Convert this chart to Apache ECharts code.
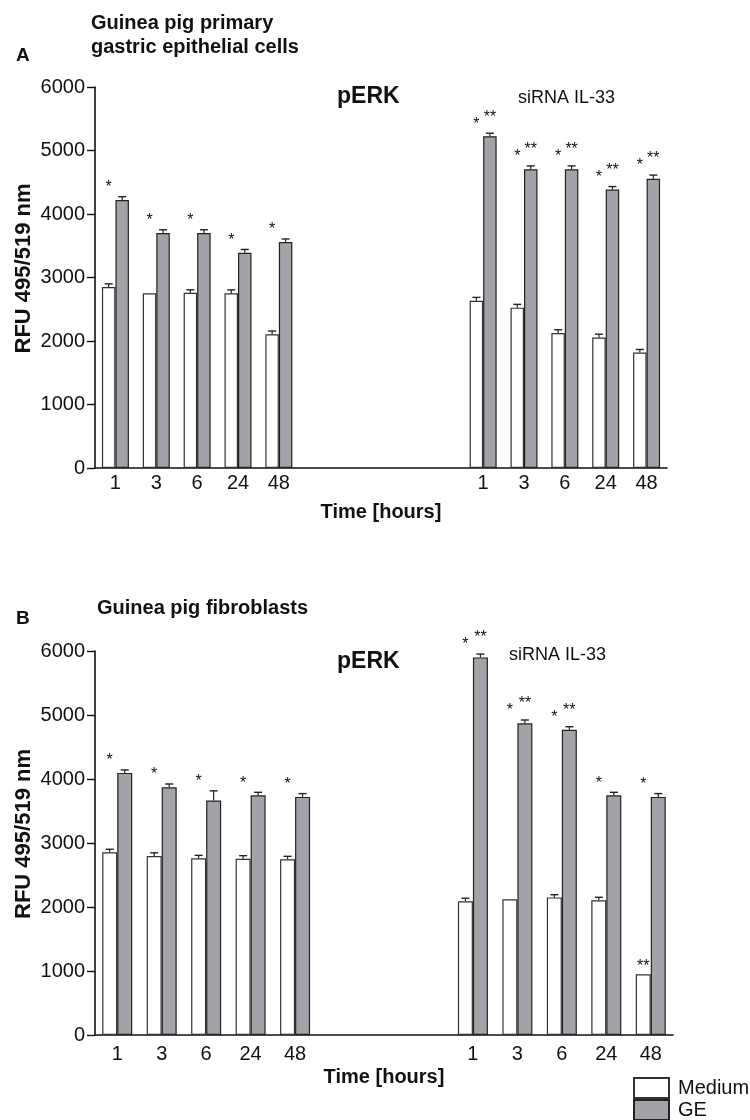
<!DOCTYPE html>
<html><head><meta charset="utf-8">
<script src="https://cdn.jsdelivr.net/npm/echarts@6/dist/echarts.min.js"></script>
<style>html,body{margin:0;padding:0;background:#fff}#c{width:750px;height:1120px}</style>
</head><body><div id="c"></div>
<script>
// ---- categories / ticks ----
const timeLabels = ['1', '3', '6', '24', '48'];
const yTicks = [0, 1000, 2000, 3000, 4000, 5000, 6000];
const legendNames = ['Medium', 'GE'];

// ---- Panel A: Guinea pig primary gastric epithelial cells ----
const aMediumCtrl = [2850, 2750, 2760, 2750, 2105];
const aGeCtrl     = [4220, 3700, 3700, 3390, 3560];
const aMediumSi   = [2635, 2525, 2125, 2055, 1820];
const aGeSi       = [5225, 4705, 4705, 4385, 4555];
const aMediumCtrlErr = [50, 0, 47, 55, 52];
const aGeCtrlErr     = [52, 52, 52, 52, 47];
const aMediumSiErr   = [52, 52, 52, 52, 47];
const aGeSiErr       = [47, 52, 52, 47, 58];
const aStarCtrlMedium = ['*', '*', '*', '*', '*'];
const aStarCtrlGe     = ['', '', '', '', ''];
const aStarSiMedium   = ['*', '*', '*', '*', '*'];
const aStarSiGe       = ['**', '**', '**', '**', '**'];
const aStarSiOnMedium = ['', '', '', '', ''];

// ---- Panel B: Guinea pig fibroblasts ----
const bMediumCtrl = [2855, 2795, 2760, 2755, 2745];
const bGeCtrl     = [4095, 3870, 3665, 3745, 3720];
const bMediumSi   = [2090, 2120, 2150, 2105, 950];
const bGeSi       = [5900, 4870, 4770, 3745, 3720];
const bMediumCtrlErr = [47, 52, 47, 47, 47];
const bGeCtrlErr     = [47, 52, 150, 47, 52];
const bMediumSiErr   = [47, 0, 42, 47, 0];
const bGeSiErr       = [52, 52, 47, 47, 52];
const bStarCtrlMedium = ['*', '*', '*', '*', '*'];
const bStarCtrlGe     = ['', '', '', '', ''];
const bStarSiMedium   = ['*', '*', '*', '*', '*'];
const bStarSiGe       = ['**', '**', '**', '', ''];
const bStarSiOnMedium = ['', '', '', '', '**'];

const FONT = "'Liberation Sans', Arial, Helvetica, sans-serif";
const INK = '#111';
const GE_COLOR = '#a2a2a8';

function align(left, right, gap) {
  return [...left, ...Array(gap).fill('-'), ...right];
}

const panels = [
  {
    grid: {left: 95, top: 87, width: 572, height: 381}, gap: 4, bw: 13.5, labelMargin: 5, nameGap: 34,
    mc: aMediumCtrl, gc: aGeCtrl, ms: aMediumSi, gs: aGeSi,
    mce: aMediumCtrlErr, gce: aGeCtrlErr, mse: aMediumSiErr, gse: aGeSiErr,
    scm: aStarCtrlMedium, scg: aStarCtrlGe, ssm: aStarSiMedium, ssg: aStarSiGe, sso: aStarSiOnMedium
  },
  {
    grid: {left: 95, top: 651, width: 578, height: 384}, gap: 3, bw: 15, labelMargin: 9, nameGap: 32,
    mc: bMediumCtrl, gc: bGeCtrl, ms: bMediumSi, gs: bGeSi,
    mce: bMediumCtrlErr, gce: bGeCtrlErr, mse: bMediumSiErr, gse: bGeSiErr,
    scm: bStarCtrlMedium, scg: bStarCtrlGe, ssm: bStarSiMedium, ssg: bStarSiGe, sso: bStarSiOnMedium
  }
];

const grids = [], xAxes = [], yAxes = [], series = [];

panels.forEach((P, pi) => {
  const cats = align(timeLabels, timeLabels, P.gap).map(v => v === '-' ? '' : v);
  grids.push(Object.assign({containLabel: false, outerBoundsMode: 'none'}, P.grid));
  xAxes.push({
    type: 'category', gridIndex: pi, data: cats,
    axisLine: {lineStyle: {color: INK, width: 1.6}},
    axisTick: {show: false},
    axisLabel: {interval: 0, fontSize: 20, fontFamily: FONT, color: INK, margin: P.labelMargin},
    name: 'Time [hours]', nameLocation: 'middle', nameGap: P.nameGap, nameMoveOverlap: false,
    nameTextStyle: {fontSize: 20, fontWeight: 'bold', fontFamily: FONT, color: INK}
  });
  yAxes.push({
    type: 'value', gridIndex: pi, min: yTicks[0], max: yTicks[yTicks.length - 1],
    interval: yTicks[1] - yTicks[0],
    axisLine: {show: true, lineStyle: {color: INK, width: 1.6}},
    axisTick: {show: true, length: 8, lineStyle: {color: INK, width: 1.4}},
    splitLine: {show: false},
    axisLabel: {fontSize: 20, fontFamily: FONT, color: INK, margin: 10, formatter: v => String(v)},
    name: 'RFU 495/519 nm', nameLocation: 'middle', nameGap: 60, nameRotate: 90, nameMoveOverlap: false,
    nameTextStyle: {fontSize: 22, fontWeight: 'bold', fontFamily: FONT, color: INK, padding: [0, 0, 0, 18]}
  });

  const medium = align(P.mc, P.ms, P.gap);
  const ge = align(P.gc, P.gs, P.gap);
  const mediumErr = align(P.mce, P.mse, P.gap);
  const geErr = align(P.gce, P.gse, P.gap);
  const starMed = align(P.scm, P.ssm, P.gap);
  const starGe = align(P.scg, P.ssg, P.gap);
  const starOn = align(Array(5).fill(''), P.sso, P.gap);

  series.push({
    name: legendNames[0], type: 'bar', xAxisIndex: pi, yAxisIndex: pi, data: medium,
    barWidth: P.bw, barGap: '0%',
    itemStyle: {color: '#ffffff', borderColor: '#333', borderWidth: 1.2}
  });
  series.push({
    name: legendNames[1], type: 'bar', xAxisIndex: pi, yAxisIndex: pi, data: ge,
    barWidth: P.bw, barGap: '0%',
    itemStyle: {color: GE_COLOR, borderColor: '#222', borderWidth: 1.2}
  });

  // error bars
  const errMeta = [];
  medium.forEach((v, i) => { if (v !== '-' && mediumErr[i] > 0) errMeta.push({i, v, e: mediumErr[i], side: 0}); });
  ge.forEach((v, i) => { if (v !== '-' && geErr[i] > 0) errMeta.push({i, v, e: geErr[i], side: 1}); });
  const bw = P.bw;
  series.push({
    type: 'custom', xAxisIndex: pi, yAxisIndex: pi, z: 5, silent: true,
    data: errMeta.map(m => [m.i, m.v + m.e]),
    renderItem: function (params, api) {
      const m = errMeta[params.dataIndex];
      const base = api.coord([m.i, m.v]);
      const top = api.coord([m.i, m.v + m.e]);
      const x = base[0] + (m.side === 0 ? -bw / 2 : bw / 2);
      return {type: 'group', children: [
        {type: 'line', shape: {x1: x, y1: base[1], x2: x, y2: top[1]}, style: {stroke: '#222', lineWidth: 1.2}},
        {type: 'line', shape: {x1: x - 4, y1: top[1], x2: x + 4, y2: top[1]}, style: {stroke: '#222', lineWidth: 1.4}}
      ]};
    }
  });

  // significance stars
  const starMeta = [];
  ge.forEach((v, i) => {
    if (v === '-') return;
    const geTop = v + geErr[i];
    if (starMed[i]) starMeta.push({i, y: geTop, t: starMed[i], side: 0, lift: 9});
    if (starGe[i]) starMeta.push({i, y: geTop, t: starGe[i], side: 1, lift: 16});
    if (starOn[i]) starMeta.push({i, y: medium[i] + mediumErr[i], t: starOn[i], side: 0, lift: 8});
  });
  series.push({
    type: 'custom', xAxisIndex: pi, yAxisIndex: pi, z: 6, silent: true,
    data: starMeta.map(m => [m.i, m.y]),
    renderItem: function (params, api) {
      const m = starMeta[params.dataIndex];
      const p = api.coord([m.i, m.y]);
      const x = p[0] + (m.side === 0 ? -bw / 2 : bw / 2);
      return {type: 'text', x: x, y: p[1] - m.lift,
        style: {text: m.t, fontSize: 16, fontFamily: FONT, fill: INK, align: 'center', verticalAlign: 'middle'}};
    }
  });
});

function txt(text, x, y, size, bold, alignH) {
  return {type: 'text', x: x, y: y, silent: true,
    style: {text: text, fontSize: size, fontWeight: bold ? 'bold' : 'normal', fontFamily: FONT,
      fill: INK, align: alignH || 'left', verticalAlign: 'middle'}};
}

const legendBase = {
  orient: 'vertical', left: 633, padding: 0, itemWidth: 35, itemHeight: 20,
  selectedMode: false, icon: 'rect',
  textStyle: {fontSize: 20, lineHeight: 20, fontFamily: FONT, color: INK, padding: [0, 0, 0, 4]}
};

const option = {
  backgroundColor: '#ffffff',
  animation: false,
  grid: grids,
  xAxis: xAxes,
  yAxis: yAxes,
  series: series,
  legend: [
    Object.assign({}, legendBase, {data: [legendNames[0]], top: 1077}),
    Object.assign({}, legendBase, {data: [legendNames[1]], top: 1099})
  ],
  graphic: [
    txt('A', 16, 56, 19, true),
    txt('Guinea pig primary', 91, 23, 20, true),
    txt('gastric epithelial cells', 91, 47, 20, true),
    txt('pERK', 337, 97, 23, true),
    txt('siRNA IL-33', 518, 98, 18, false),
    txt('B', 16, 619, 19, true),
    txt('Guinea pig fibroblasts', 97, 608, 20, true),
    txt('pERK', 337, 662, 23, true),
    txt('siRNA IL-33', 509, 655, 18, false)
  ]
};

const chart = echarts.init(document.getElementById('c'), null, {renderer: 'canvas'});
chart.setOption(option);
</script>
</body></html>
